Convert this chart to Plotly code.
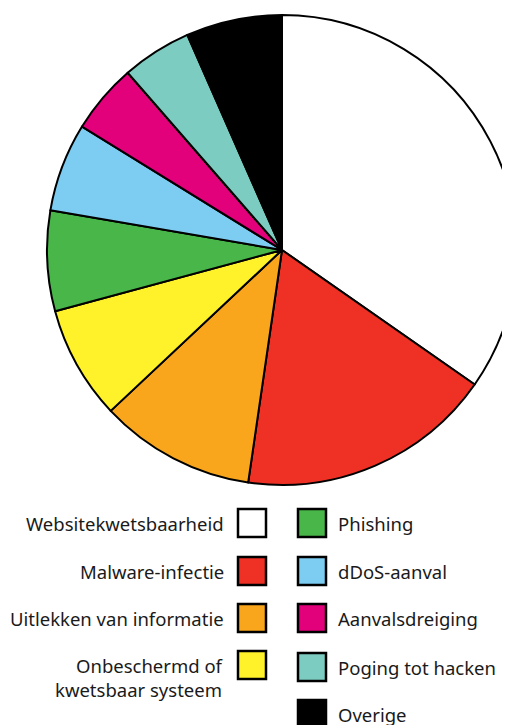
import plotly.graph_objects as go

categories = ["Websitekwetsbaarheid", "Malware-infectie", "Uitlekken van informatie",
              "Onbeschermd of<br>kwetsbaar systeem", "Phishing", "dDoS-aanval",
              "Aanvalsdreiging", "Poging tot hacken", "Overige"]
values = [34.7, 17.6, 10.7, 7.8, 6.9, 6.1, 4.8, 4.8, 6.6]
colors = ["#ffffff", "#ee3124", "#f9a61c", "#fff22a", "#48b649", "#7dcdf2",
          "#e3007b", "#7dccc1", "#000000"]

W, H = 510, 725
OFF = 8  # page body margin
fig = go.Figure()

# pie centred at (282, 250) px in the page
cx, cy, r = 282 - OFF, 250 - OFF, 235
fig.add_trace(go.Pie(
    labels=categories, values=values, sort=False, direction="clockwise", rotation=0,
    marker=dict(colors=colors, line=dict(color="#000000", width=2)),
    textinfo="none", hoverinfo="label+percent", showlegend=False,
    domain=dict(x=[(cx - r) / W, (cx + r) / W], y=[(H - cy - r) / H, (H - cy + r) / H]),
))

# hidden pixel-coordinate axes (page pixels) for the custom legend
fig.update_xaxes(range=[OFF, W + OFF], visible=False, fixedrange=True)
fig.update_yaxes(range=[H + OFF, OFF], visible=False, fixedrange=True)

left_rows = [523, 571, 618, 665]
right_rows = [523, 571, 618, 667, 714]
box = 28
font = dict(family="Noto Sans", size=18.5, color="#1a1a1a")

shapes = []
annotations = []
for i in range(4):
    yc = left_rows[i]
    shapes.append(dict(type="rect", xref="x", yref="y", x0=238, x1=238 + box,
                       y0=yc - box / 2, y1=yc + box / 2,
                       fillcolor=colors[i], line=dict(color="#000000", width=2.5)))
    annotations.append(dict(xref="x", yref="y", x=226, y=yc if i < 3 else yc + 12,
                            text=categories[i], showarrow=False, xanchor="right",
                            yanchor="middle", align="right", font=font))
for j in range(5):
    i = j + 4
    yc = right_rows[j]
    shapes.append(dict(type="rect", xref="x", yref="y", x0=298, x1=298 + box,
                       y0=yc - box / 2, y1=yc + box / 2,
                       fillcolor=colors[i], line=dict(color="#000000", width=2.5)))
    annotations.append(dict(xref="x", yref="y", x=336, y=yc,
                            text=categories[i], showarrow=False, xanchor="left",
                            yanchor="middle", align="left", font=font))

fig.update_layout(width=W, height=H, margin=dict(l=0, r=0, t=0, b=0),
                  paper_bgcolor="#ffffff", plot_bgcolor="#ffffff",
                  shapes=shapes, annotations=annotations)
fig.write_html("out.html")
